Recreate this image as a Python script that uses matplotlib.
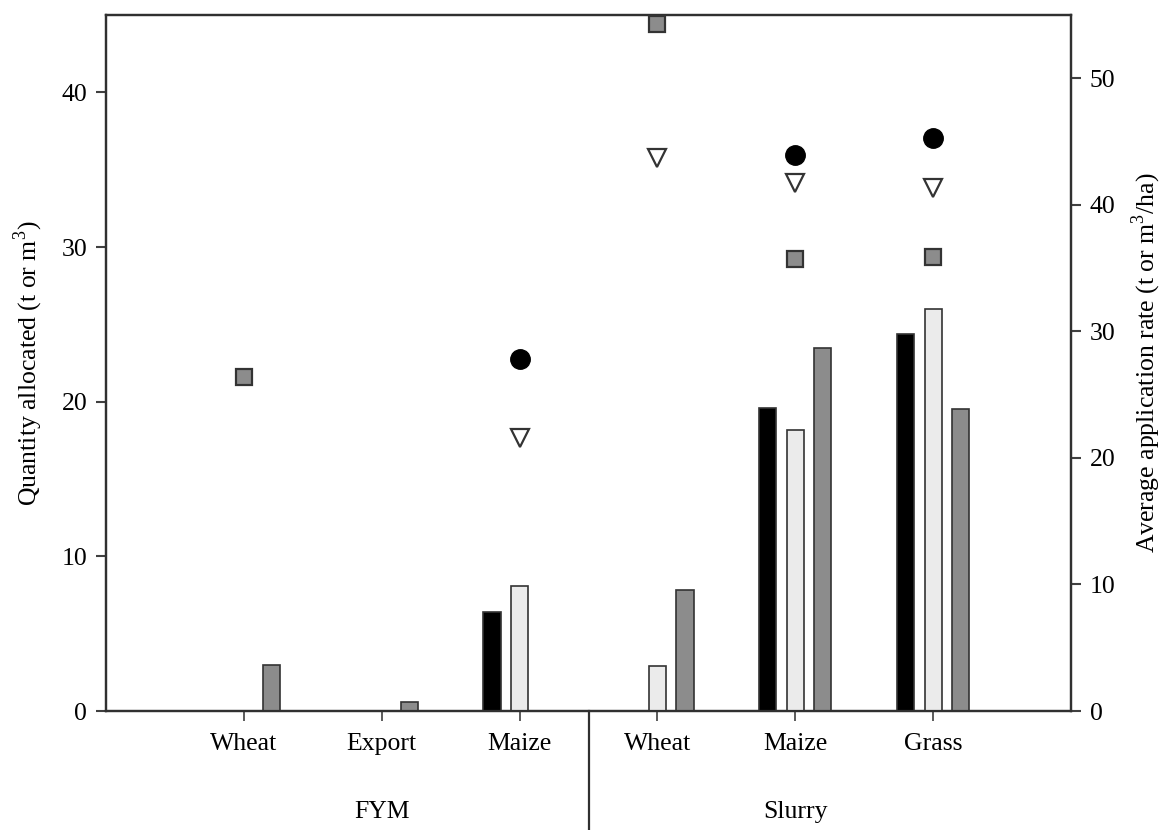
import numpy as np
import matplotlib
matplotlib.use("Agg")
import matplotlib.pyplot as plt
import matplotlib.transforms as mtrans

plt.rcParams['font.family'] = ['Liberation Serif', 'DejaVu Serif']
plt.rcParams['mathtext.fontset'] = 'custom'
plt.rcParams['mathtext.rm'] = 'Liberation Serif'

categories = ['Wheat', 'Export', 'Maize', 'Wheat', 'Maize', 'Grass']
groups = ['FYM', 'Slurry']
group_sizes = [3, 3]

nan = np.nan
# Quantity allocated (left axis)
bar_black = [nan, nan, 6.4, nan, 19.6, 24.4]
bar_light = [nan, nan, 8.1, 2.9, 18.2, 26.0]
bar_gray = [3.0, 0.6, nan, 7.8, 23.5, 19.5]
# Average application rate (right axis)
rate_circle = [nan, nan, 27.8, nan, 43.9, 45.3]
rate_triangle = [nan, nan, 21.6, 43.7, 41.7, 41.3]
rate_square = [26.4, nan, nan, 54.3, 35.7, 35.9]

edge = '#333333'
fig = plt.figure(figsize=(11.68, 8.30), dpi=100)
ax = fig.add_axes([106/1168, 119/830, (1071-106)/1168, (711-15)/830])
ax2 = ax.twinx()

x = np.arange(len(categories))
w = 0.125
off = 0.2
ax.bar(x - off, bar_black, w, color='#000000', edgecolor=edge, linewidth=1.2, zorder=3)
ax.bar(x, bar_light, w, color='#ebebeb', edgecolor=edge, linewidth=1.2, zorder=3)
ax.bar(x + off, bar_gray, w, color='#8c8c8c', edgecolor=edge, linewidth=1.2, zorder=3)

ax2.plot(x, rate_circle, 'o', color='black', markersize=14, markeredgecolor='black', linestyle='none', zorder=4)
ax2.plot(x, rate_triangle, 'v', color='white', markersize=13, markeredgecolor=edge, markeredgewidth=1.6, linestyle='none', zorder=4)
ax2.plot(x, rate_square, 's', color='#8c8c8c', markersize=12, markeredgecolor=edge, markeredgewidth=1.6, linestyle='none', zorder=4)

ax.set_xlim(-1, 6)
ax.set_ylim(0, 45)
ax2.set_ylim(0, 55)
ax.set_yticks([0, 10, 20, 30, 40])
ax2.set_yticks([0, 10, 20, 30, 40, 50])
ax.set_xticks(x)
ax.set_xticklabels(categories)

fs = 18.5
ax.tick_params(axis='y', labelsize=fs, length=7.5, width=1.5, direction='out', pad=6, color='#404040')
ax2.tick_params(axis='y', labelsize=fs, length=7.5, width=1.5, direction='out', pad=6, color='#404040')
ax.tick_params(axis='x', labelsize=fs, length=7, width=1.2, direction='out', pad=9, color='#404040')

for a in (ax, ax2):
    for s in a.spines.values():
        s.set_linewidth(1.6)
        s.set_color('#303030')

ax.set_ylabel('Quantity allocated (t or m$^3$)', fontsize=fs, labelpad=12)
ax2.set_ylabel('Average application rate (t or m$^3$/ha)', fontsize=fs, labelpad=10)

# group labels and divider
trans = mtrans.blended_transform_factory(ax.transData, ax.transAxes)
start = 0
for g, n in zip(groups, group_sizes):
    center = start + (n - 1) / 2
    ax.text(center, -0.145, g, transform=trans, ha='center', va='center', fontsize=fs)
    start += n
ax.plot([2.5, 2.5], [0, -0.175], transform=trans, color='#303030', linewidth=1.6, clip_on=False)

fig.savefig('out.png', dpi=100)
